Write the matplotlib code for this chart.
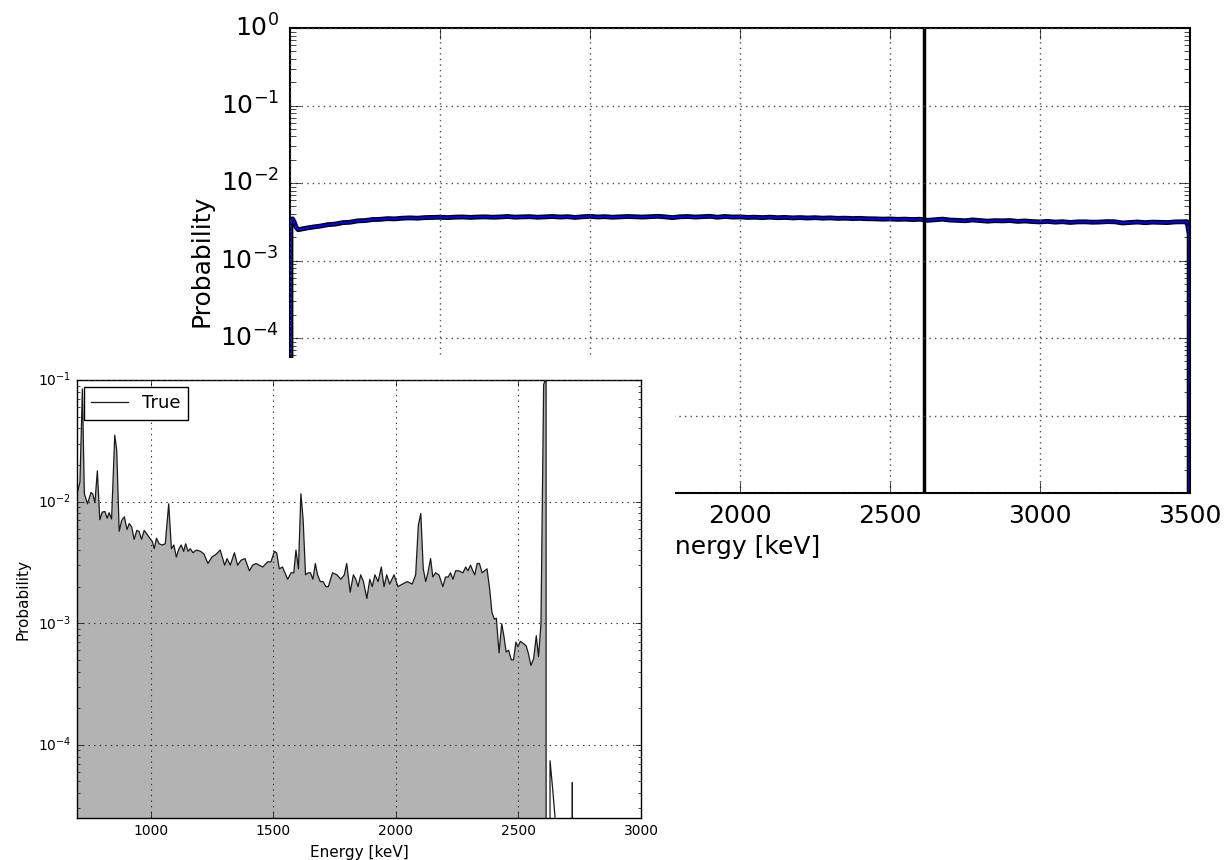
import numpy as np
import matplotlib
matplotlib.use('Agg')
import matplotlib.pyplot as plt
from matplotlib.patches import Rectangle

plt.style.use('classic')
plt.rcParams['font.family'] = ['DejaVu Sans']
plt.rcParams['axes.unicode_minus'] = False

# reconstructed spectrum (blue), left edge, 25 keV grid from 550 keV, right edge
reco_left_e = [500, 503, 508, 513, 520, 527]
reco_left_p = [0.0, 3.3e-3, 3.45e-3, 3.2e-3, 2.7e-3, 2.5e-3]
# values in units of 1e-3, ten per row (250 keV per row)
reco_grid_p = [
    2.60, 2.70, 2.78, 2.90, 2.95, 3.08, 3.12, 3.25, 3.28, 3.38,   # 550 - 775
    3.40, 3.47, 3.45, 3.52, 3.55, 3.52, 3.58, 3.60, 3.62, 3.58,   # 800 - 1025
    3.63, 3.65, 3.60, 3.64, 3.66, 3.62, 3.65, 3.70, 3.63, 3.66,   # 1050 - 1275
    3.68, 3.62, 3.66, 3.70, 3.64, 3.68, 3.60, 3.67, 3.72, 3.65,   # 1300 - 1525
    3.68, 3.62, 3.66, 3.70, 3.67, 3.64, 3.68, 3.72, 3.66, 3.58,   # 1550 - 1775
    3.67, 3.70, 3.64, 3.68, 3.72, 3.62, 3.70, 3.64, 3.66, 3.60,   # 1800 - 2025
    3.62, 3.58, 3.63, 3.57, 3.60, 3.55, 3.58, 3.54, 3.57, 3.52,   # 2050 - 2275
    3.55, 3.50, 3.52, 3.48, 3.50, 3.46, 3.45, 3.42, 3.44, 3.40,   # 2300 - 2525
    3.42, 3.38, 3.41, 3.30, 3.36, 3.42, 3.33, 3.30, 3.26, 3.34,   # 2550 - 2775
    3.28, 3.22, 3.27, 3.25, 3.28, 3.20, 3.24, 3.18, 3.15, 3.20,   # 2800 - 3025
    3.13, 3.17, 3.10, 3.15, 3.16, 3.12, 3.14, 3.18, 3.16, 3.05,   # 3050 - 3275
    3.10, 3.14, 3.08, 3.13, 3.11, 3.09, 3.15, 3.16,               # 3300 - 3475
]
reco_right_e = [3490, 3497, 3500]
reco_right_p = [3.17e-3, 2.2e-3, 0.0]

# Tl-208 line
tl_line = 2614.5

# true spectrum (grey fill)
true_e = [
    700, 712, 722, 730, 743, 757, 764, 773, 783, 793,
    803, 814, 823, 831, 841, 854, 862, 872, 882, 893,
    904, 913, 923, 933, 944, 953, 963, 974, 985, 997,
    1007, 1015, 1024, 1035, 1047, 1060, 1074, 1085, 1095, 1105,
    1116, 1125, 1135, 1143, 1153, 1162, 1173, 1187, 1204, 1218,
    1234, 1250, 1268, 1284, 1302, 1312, 1325, 1342, 1355, 1369,
    1385, 1403, 1416, 1430, 1443, 1457, 1478, 1491, 1505, 1514,
    1525, 1538, 1548, 1559, 1573, 1584, 1593, 1603, 1613, 1622,
    1632, 1643, 1652, 1662, 1672, 1681, 1692, 1703, 1715, 1725,
    1742, 1760, 1776, 1790, 1800, 1814, 1827, 1837, 1846, 1857,
    1868, 1882, 1894, 1904, 1915, 1928, 1941, 1952, 1963, 1975,
    1993, 2009, 2027, 2047, 2067, 2081, 2092, 2102, 2112, 2122,
    2131, 2142, 2151, 2162, 2176, 2192, 2203, 2214, 2223, 2233,
    2244, 2257, 2274, 2285, 2294, 2305, 2314, 2322, 2332, 2341,
    2352, 2362, 2372, 2383, 2392, 2402, 2410, 2421, 2432, 2441,
    2450, 2460, 2471, 2480, 2490, 2498, 2508, 2521, 2532, 2541,
    2551, 2562, 2573, 2582, 2592, 2603, 2613, 2616, 2629, 2639,
    2649, 2659, 2710, 2720, 2730, 3000,
]
true_p = [
    0.0116, 0.0145, 0.0843, 0.0116, 0.0096, 0.0119, 0.0116, 0.0098, 0.0179, 0.0071,
    0.0082, 0.0083, 0.0073, 0.0081, 0.0072, 0.0352, 0.0265, 0.0057, 0.0070, 0.0075,
    0.0059, 0.0066, 0.0062, 0.0049, 0.0058, 0.0057, 0.0049, 0.0058, 0.0054, 0.0050,
    0.0047, 0.0041, 0.0050, 0.0045, 0.0044, 0.0045, 0.0096, 0.0041, 0.0044, 0.0035,
    0.0041, 0.0044, 0.0039, 0.0045, 0.0039, 0.0041, 0.0038, 0.0040, 0.0039, 0.0037,
    0.0031, 0.0035, 0.0037, 0.0040, 0.0030, 0.0034, 0.0030, 0.0038, 0.0030, 0.0033,
    0.0034, 0.0027, 0.0030, 0.0031, 0.0030, 0.0029, 0.0032, 0.0032, 0.0039, 0.0038,
    0.0028, 0.0029, 0.0026, 0.0023, 0.0026, 0.0026, 0.0040, 0.0028, 0.0116, 0.0072,
    0.0025, 0.0026, 0.0026, 0.0023, 0.0031, 0.0025, 0.0022, 0.0022, 0.0020, 0.0020,
    0.0026, 0.0025, 0.0023, 0.0025, 0.0031, 0.0018, 0.0025, 0.0023, 0.0020, 0.0025,
    0.0022, 0.0016, 0.0023, 0.0020, 0.0025, 0.0022, 0.0029, 0.0020, 0.0025, 0.0021,
    0.0025, 0.0020, 0.0021, 0.0022, 0.0021, 0.0025, 0.0064, 0.0080, 0.0028, 0.0022,
    0.0026, 0.0034, 0.0024, 0.0026, 0.0025, 0.0020, 0.0024, 0.0024, 0.0026, 0.0023,
    0.0027, 0.0027, 0.0026, 0.0029, 0.0027, 0.0030, 0.0027, 0.0025, 0.0031, 0.0031,
    0.0026, 0.0027, 0.0028, 0.0019, 0.00123, 0.00108, 0.0011, 0.00057, 0.00099, 0.00078,
    0.00058, 0.00060, 0.00050, 0.00050, 0.00070, 0.00064, 0.00071, 0.00068, 0.00065, 0.00056,
    0.00045, 0.00051, 0.00079, 0.00053, 0.00099, 0.092, 0.104, 0.0, 7.4e-5, 4.5e-5,
    2.6e-5, 0.0, 0.0, 4.9e-5, 0.0, 0.0,
]

reco_grid_e = 550 + 25 * np.arange(len(reco_grid_p))
reco_e = np.concatenate([reco_left_e, reco_grid_e, reco_right_e])
reco_p = np.concatenate([reco_left_p, np.array(reco_grid_p) * 1e-3, reco_right_p])
true_e = np.array(true_e)
true_p = np.array(true_p)

fig = plt.figure(figsize=(12.28, 8.6), dpi=100, facecolor='white')

# big plot: reconstructed spectrum
ax = fig.add_axes([0.2362, 0.4267, 0.7329, 0.5407])
ax.plot(reco_e, reco_p, color='k', lw=3.5)
ax.plot(reco_e, reco_p, color='b', lw=1.5)
ax.axvline(tl_line, color='k', lw=2.5)
ax.set_yscale('log')
ax.set_xlim(500, 3500)
ax.set_ylim(1e-6, 1)
ax.set_xticks(np.arange(500, 3501, 500))
ax.grid(True, color='0.3', linestyle=':', lw=1)
ax.tick_params(labelsize=18, pad=8)
ax.tick_params(which='major', length=8)
ax.tick_params(which='minor', length=4)
for s in ax.spines.values():
    s.set_linewidth(1.5)
ax.set_xlabel('Energy [keV]', fontsize=18)
ax.set_ylabel('Probability', fontsize=18)

# white panel behind the small plot
fig.add_artist(Rectangle((0, 0), 675 / 1228, 502 / 860, transform=fig.transFigure,
                         facecolor='white', edgecolor='none', zorder=1))

# small plot: true spectrum
ax2 = fig.add_axes([0.0627, 0.0488, 0.4593, 0.5093])
ax2.set_zorder(2)
ax2.fill_between(true_e, true_p, where=true_e <= 2616, color='0.7', lw=0)
ax2.plot(true_e, true_p, color='0.1', lw=0.9, label='True')
ax2.set_yscale('log')
ax2.set_xlim(700, 3000)
ax2.set_ylim(2.5e-5, 0.1)
ax2.set_xticks(np.arange(1000, 3001, 500))
ax2.grid(True, color='0.2', linestyle=':', lw=0.8)
ax2.tick_params(labelsize=10)
ax2.set_xlabel('Energy [keV]', fontsize=11)
ax2.set_ylabel('Probability', fontsize=11)
ax2.legend(loc='upper left', fontsize=13, numpoints=1, borderaxespad=0.4)

fig.savefig('out.png', dpi=100, facecolor='white')
